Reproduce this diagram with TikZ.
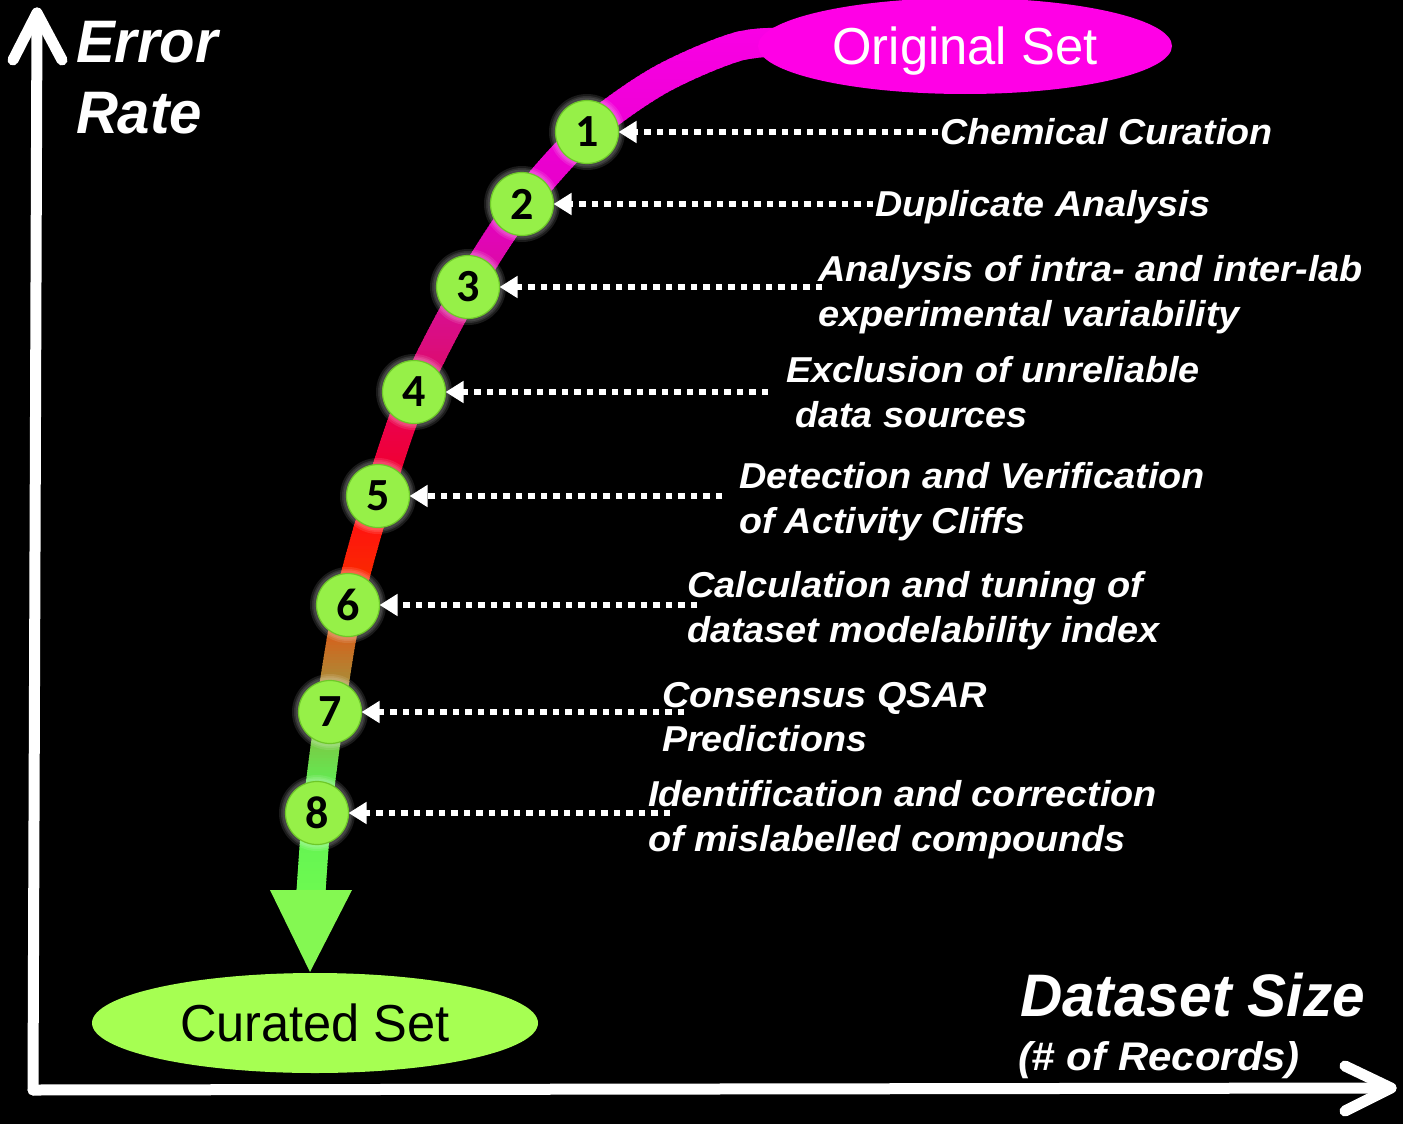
\documentclass[tikz,border=0pt]{standalone}
\usepackage{fontspec}
\setmainfont{Liberation Sans}
\newfontfamily\numfont{Carlito}
\usepackage{graphicx}
\usetikzlibrary{arrows.meta,shapes.geometric}

\newsavebox\fitbox
\newcommand\fitw[2]{\sbox\fitbox{#2}\pgfmathsetmacro\fitsx{#1/\the\wd\fitbox}\scalebox{\fitsx}[1]{\usebox\fitbox}}

\definecolor{gA}{RGB}{250,0,230}
\definecolor{gB}{RGB}{230,0,200}
\definecolor{gC}{RGB}{215,15,150}
\definecolor{gD}{RGB}{220,12,115}
\definecolor{gE}{RGB}{235,0,75}
\definecolor{gF}{RGB}{240,0,50}
\definecolor{gG}{RGB}{255,20,15}
\definecolor{gH}{RGB}{250,40,0}
\definecolor{gI}{RGB}{210,100,30}
\definecolor{gJ}{RGB}{170,140,55}
\definecolor{gK}{RGB}{120,205,70}
\definecolor{gL}{RGB}{95,240,85}
\definecolor{gM}{RGB}{110,250,80}
\definecolor{origmag}{RGB}{255,0,230}
\definecolor{curgreen}{RGB}{166,255,82}
\definecolor{numgreen}{RGB}{150,240,72}
\definecolor{numrim}{RGB}{110,200,40}
\definecolor{arrgreen}{RGB}{132,248,82}

\newcommand\trunkdraw[1]{\draw[#1] plot[smooth,tension=0.5] coordinates {(805,42) (740,46) (660,80) (587,132) (522,204) (468,287) (414,392) (378,496) (348,605) (330,712) (317,813) (311,892)};}

\newcommand\gseg[4]{%
  \pgfmathtruncatemacro\gN{(#2-#1)/3}%
  \foreach \k in {0,...,\gN}{%
    \pgfmathsetmacro\gy{#1+3*\k}%
    \pgfmathtruncatemacro\gp{100*\k/\gN}%
    \begin{scope}
      \clip (0,\gy) rectangle (1403,\gy+3.6);
      \trunkdraw{line width=29pt, color=#4!\gp!#3}
    \end{scope}
  }}

\newcommand\rowfont{\bfseries\itshape\fontsize{36}{40}\selectfont}

\begin{document}
\begin{tikzpicture}[x=1pt,y=-1pt,
  axis/.style={white, line width=11pt, line cap=round, line join=round},
  lbl/.style={anchor=base west, inner sep=0pt, outer sep=0pt, text=white, font=\rowfont},
  title/.style={anchor=base west, inner sep=0pt, outer sep=0pt, text=white, font=\bfseries\itshape\fontsize{60}{60}\selectfont},
  numc/.style={circle, minimum size=63pt, inner sep=0pt, outer sep=0pt, fill=numgreen, draw=numrim, line width=1.2pt, font=\numfont\bfseries\fontsize{46}{46}\selectfont, text=black},
  dotarrow/.style={white, line width=6.5pt, dash pattern=on 6.5pt off 6pt, -{Triangle[length=18pt,width=21pt]}}
]
\useasboundingbox (0,0) rectangle (1403,1124);
\fill[black] (0,0) rectangle (1403,1124);

% axes
\coordinate (O) at (33,1090);
\coordinate (ytip) at (37,13);
\coordinate (yl) at (13,60);
\coordinate (yr) at (62,60);
\coordinate (xtip) at (1391,1088);
\coordinate (xu) at (1345,1066);
\coordinate (xd) at (1345,1111);
\draw[axis] (O) -- (ytip);
\draw[axis] (yl) -- (ytip) -- (yr);
\draw[axis] (O) -- (xtip);
\draw[axis] (xu) -- (xtip) -- (xd);

% trunk with colour gradient
\gseg{20}{200}{gA}{gB}
\gseg{200}{300}{gB}{gC}
\gseg{300}{360}{gC}{gD}
\gseg{360}{420}{gD}{gE}
\gseg{420}{470}{gE}{gF}
\gseg{470}{525}{gF}{gG}
\gseg{525}{575}{gG}{gH}
\gseg{575}{636}{gH}{gI}
\gseg{636}{681}{gI}{gJ}
\gseg{681}{743}{gJ}{gK}
\gseg{743}{790}{gK}{gL}
\gseg{790}{900}{gL}{gM}

\fill[arrgreen] (270,890) -- (352,890) -- (310,972) -- cycle;

% end nodes
\node[ellipse, fill=origmag, minimum width=414pt, minimum height=96pt, inner sep=0pt, text=white, text depth=0pt, font=\fontsize{52}{52}\selectfont] (orig) at (965,46) {\fitw{265}{Original Set}};
\node[ellipse, fill=curgreen, minimum width=446pt, minimum height=100pt, inner sep=0pt, text=black, text depth=0pt, font=\fontsize{52}{52}\selectfont] (cur) at (315,1023) {\fitw{270}{Curated Set}};

% numbered circles
\foreach \i/\x/\y in {1/587/132, 2/522/204, 3/468/287, 4/414/392, 5/378/496, 6/348/605, 7/330/712, 8/317/813}{
  \foreach \r in {38,36,34.5}{\fill[white, opacity=0.10] (\x,\y) circle (\r);}
  \node[numc] (c\i) at (\x,\y) {\i};
}

% dotted arrows
\coordinate (t1) at (938,132);
\coordinate (t2) at (873,204);
\coordinate (t3) at (822,287);
\coordinate (t4) at (768,392);
\coordinate (t5) at (722,496);
\coordinate (t6) at (697,605);
\coordinate (t7) at (684,712);
\coordinate (t8) at (670,813);
\foreach \i in {1,...,8}{\draw[dotarrow] (t\i) -- (c\i.east);}

% step labels
\node[lbl] (l1) at (940,144) {\fitw{333}{Chemical Curation}};
\node[lbl] (l2) at (875,216) {\fitw{335}{Duplicate Analysis}};
\node[lbl] (l3a) at (818,281) {\fitw{545}{Analysis of intra- and inter-lab}};
\node[lbl] (l3b) at (818,326) {\fitw{422}{experimental variability}};
\node[lbl] (l4a) at (786,382) {\fitw{414}{Exclusion of unreliable}};
\node[lbl] (l4b) at (795,427) {\fitw{233}{data sources}};
\node[lbl] (l5a) at (739,488) {\fitw{466}{Detection and Verification}};
\node[lbl] (l5b) at (739,533) {\fitw{286}{of Activity Cliffs}};
\node[lbl] (l6a) at (687,597) {\fitw{456}{Calculation and tuning of}};
\node[lbl] (l6b) at (687,642) {\fitw{473}{dataset modelability index}};
\node[lbl] (l7a) at (662,707) {\fitw{325}{Consensus QSAR}};
\node[lbl] (l7b) at (662,751) {\fitw{205}{Predictions}};
\node[lbl] (l8a) at (648,806) {\fitw{509}{Identification and correction}};
\node[lbl] (l8b) at (648,851) {\fitw{478}{of mislabelled compounds}};

% axis titles
\node[title] (err) at (76,63) {\fitw{142}{Error}};
\node[title] (rate) at (76,133) {\fitw{126}{Rate}};
\node[title] (ds) at (1020,1016) {\fitw{345}{Dataset Size}};
\node[lbl, font=\bfseries\itshape\fontsize{40}{40}\selectfont] (rec) at (1018,1070) {\fitw{282}{(\# of Records)}};
\end{tikzpicture}
\end{document}
